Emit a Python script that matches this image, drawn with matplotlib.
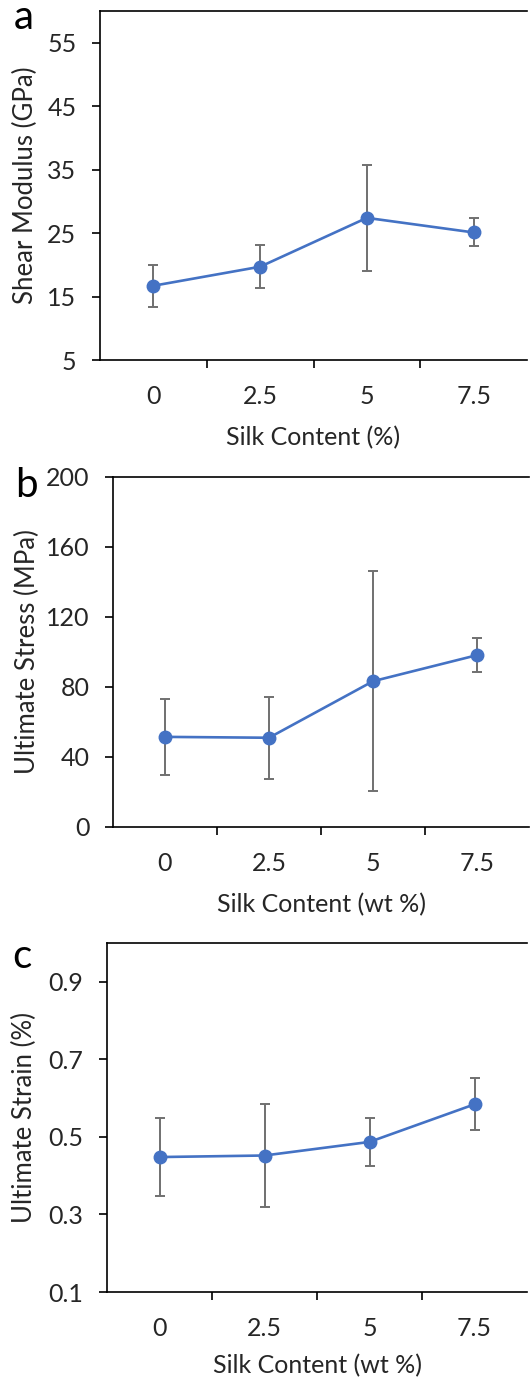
import matplotlib
matplotlib.use("Agg")
import matplotlib.pyplot as plt

plt.rcParams['font.family'] = ['Lato', 'DejaVu Sans']

# silk content categories
silk = ['0', '2.5', '5', '7.5']

# shear modulus (GPa)
shear_mean = [16.7, 19.7, 27.4, 25.1]
shear_err = [3.3, 3.4, 8.4, 2.2]

# ultimate stress (MPa)
stress_mean = [51.5, 51.0, 83.3, 98.2]
stress_err = [21.5, 23.5, 62.9, 9.7]

# ultimate strain (%)
strain_mean = [0.448, 0.452, 0.487, 0.584]
strain_err = [0.100, 0.133, 0.062, 0.067]

BLUE = '#4472C4'
GRAY = '#707070'
TXT = '#262626'
W, H = 530, 1386

fig = plt.figure(figsize=(W / 100, H / 100), dpi=100)

# pixel boxes: left, top, right, bottom; then label positions
panels = [
    ((100, 11, 527, 360), shear_mean, shear_err, (5, 60), [5, 15, 25, 35, 45, 55],
     'Shear Modulus (GPa)', 'Silk Content (%)', 'a', (14, 29), 25, 438),
    ((113, 477, 529, 827), stress_mean, stress_err, (0, 200), [0, 40, 80, 120, 160, 200],
     'Ultimate Stress (MPa)', 'Silk Content (wt %)', 'b', (15, 497), 27, 905),
    ((107, 943, 527, 1292), strain_mean, strain_err, (0.1, 1.0), [0.1, 0.3, 0.5, 0.7, 0.9],
     'Ultimate Strain (%)', 'Silk Content (wt %)', 'c', (12, 968), 24, 1366),
]

for box, mean, err, ylim, yticks, ylabel, xlabel, letter, lpos, ylab_x, xlab_y in panels:
    l, t, r, b = box
    ax = fig.add_axes([l / W, 1 - b / H, (r - l) / W, (b - t) / H])
    x = list(range(len(silk)))
    ax.errorbar(x, mean, yerr=err, fmt='none', ecolor=GRAY, elinewidth=1.4,
                capsize=3.6, capthick=1.4, zorder=2)
    ax.plot(x, mean, color=BLUE, lw=1.9, marker='o', markersize=9, zorder=3)

    ax.set_xlim(-0.5, 3.5)
    ax.set_ylim(*ylim)
    ax.set_yticks(yticks)
    ax.set_yticklabels([f'{v:g}' for v in yticks])
    ax.set_xticks(x)
    ax.set_xticklabels(silk)
    ax.set_xticks([0.5, 1.5, 2.5], minor=True)

    for s in ['left', 'top', 'bottom']:
        ax.spines[s].set_linewidth(1.2)
        ax.spines[s].set_color('black')
    ax.spines['right'].set_visible(False)

    ax.tick_params(axis='x', which='major', length=0, pad=18, labelsize=18, labelcolor=TXT)
    ax.tick_params(axis='x', which='minor', length=6, width=1.2, direction='out')
    ax.tick_params(axis='y', length=6, width=1.2, direction='out', pad=11,
                   labelsize=18, labelcolor=TXT)

    ax.set_ylabel(ylabel, fontsize=18.5, color=TXT)
    ax.set_xlabel(xlabel, fontsize=18, color=TXT)
    ax.yaxis.set_label_coords((ylab_x - l) / (r - l), 0.5)
    ax.yaxis.label.set_va('center')
    ax.xaxis.set_label_coords(0.5, (b - xlab_y) / (b - t))
    ax.xaxis.label.set_va('center')

    fig.text(lpos[0] / W, 1 - lpos[1] / H, letter, fontsize=29, color='black',
             va='baseline', ha='left')

fig.savefig('out.png', dpi=100)
